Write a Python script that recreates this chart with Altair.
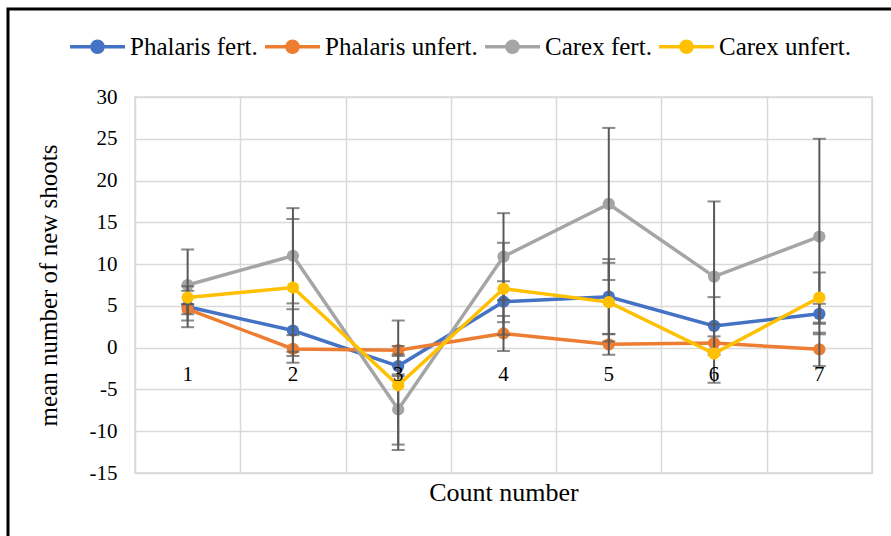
import altair as alt
import pandas as pd

# Count numbers (x categories)
counts = ["1", "2", "3", "4", "5", "6", "7"]

# Mean number of new shoots per treatment, with error (+/-)
phalaris_fert = [4.9, 2.05, -2.2, 5.5, 6.1, 2.6, 4.05]
phalaris_fert_err = [2.45, 2.55, 1.2, 2.45, 4.5, 3.45, 1.2]
phalaris_unfert = [4.6, -0.15, -0.3, 1.7, 0.4, 0.55, -0.2]
phalaris_unfert_err = [0.6, 1.65, 0.5, 2.1, 1.25, 0.8, 2.0]
carex_fert = [7.5, 11.0, -7.4, 10.9, 17.2, 8.5, 13.3]
carex_fert_err = [4.25, 5.7, 4.2, 5.2, 9.1, 9.0, 11.7]
carex_unfert = [6.0, 7.2, -4.5, 7.05, 5.45, -0.7, 6.0]
carex_unfert_err = [0.8, 8.2, 7.75, 5.5, 4.7, 3.5, 3.0]

series_names = ["Phalaris fert.", "Phalaris unfert.", "Carex fert.", "Carex unfert."]
series_colors = ["#4472C4", "#ED7D31", "#A5A5A5", "#FFC000"]
y_ticks = [-15, -10, -5, 0, 5, 10, 15, 20, 25, 30]

means = [phalaris_fert, phalaris_unfert, carex_fert, carex_unfert]
errs = [phalaris_fert_err, phalaris_unfert_err, carex_fert_err, carex_unfert_err]

rows = []
for name, m, e in zip(series_names, means, errs):
    for c, v, d in zip(counts, m, e):
        rows.append({"count": c, "series": name, "value": v, "lo": v - d, "hi": v + d})
df = pd.DataFrame(rows)

FONT = "Liberation Serif"
W, H = 737, 376
ZERO_OFFSET = -(H - H * 30 / 45)  # lifts the category labels up to the y = 0 line

x_scale = alt.Scale(paddingInner=0, paddingOuter=0)

# Vertical gridlines at the band edges (drawn under the marks)
x_grid = alt.X(
    "count:N",
    sort=counts,
    scale=x_scale,
    axis=alt.Axis(
        orient="bottom",
        title=None,
        labels=False,
        tickBand="extent",
        grid=True,
        gridColor="#d9d9d9",
        gridWidth=1.5,
        ticks=False,
        domain=False,
    ),
)
# Category labels sitting on the zero line (drawn over the marks) and the axis title
x_labels = alt.X(
    "count:N",
    sort=counts,
    scale=x_scale,
    axis=alt.Axis(
        orient="bottom",
        title="Count number",
        labelAngle=0,
        grid=False,
        ticks=False,
        tickSize=0,
        domain=False,
        offset=ZERO_OFFSET,
        labelPadding=27,
        labelBaseline="middle",
        titleY=145,
        titleBaseline="middle",
        zindex=1,
    ),
)
x_plain = alt.X("count:N", sort=counts, scale=x_scale, axis=None)

y_enc = alt.Y(
    "value:Q",
    scale=alt.Scale(domain=[-15, 30], nice=False),
    axis=alt.Axis(
        title="mean number of new shoots",
        values=y_ticks,
        labelExpr="toString(datum.value)",
        grid=True,
        gridColor="#d9d9d9",
        gridWidth=1.5,
        ticks=False,
        domain=False,
        labelPadding=18,
        titleX=-87,
        titleY=H / 2,
        titleAngle=-90,
        titleAlign="center",
        titleBaseline="middle",
    ),
)

# Line-with-dot legend symbol (dot built from stroked rings)
legend_symbol = (
    "M-1,0L1,0"
    "M-0.2,0A0.2,0.2,0,1,1,0.2,0A0.2,0.2,0,1,1,-0.2,0"
    "M-0.11,0A0.11,0.11,0,1,1,0.11,0A0.11,0.11,0,1,1,-0.11,0"
    "M-0.03,0A0.03,0.03,0,1,1,0.03,0A0.03,0.03,0,1,1,-0.03,0"
)
color_scale = alt.Scale(domain=series_names, range=series_colors)
legend = alt.Legend(
    title=None,
    orient="none",
    direction="horizontal",
    legendX=-67,
    legendY=-80,
    symbolType=legend_symbol,
    symbolSize=3025,
    symbolStrokeWidth=3.5,
    labelFont=FONT,
    labelFontSize=25,
    labelColor="black",
    labelOffset=3,
    columnPadding=0,
    labelLimit=300,
)

base = alt.Chart(df)


def line_layer(name, x_enc):
    return base.transform_filter(alt.datum.series == name).mark_line(strokeWidth=3.5).encode(
        x=x_enc, y=y_enc, color=alt.Color("series:N", scale=color_scale, legend=legend)
    )


def dot_layer(name, x_enc):
    return base.transform_filter(alt.datum.series == name).mark_circle(size=150, opacity=1).encode(
        x=x_enc, y=y_enc, color=alt.Color("series:N", scale=color_scale, legend=None)
    )


err_color = "#595959"
err_rule = base.mark_rule(color=err_color, strokeWidth=2).encode(
    x=x_plain, y=alt.Y("lo:Q"), y2="hi:Q"
)
cap_lo = base.mark_tick(color=err_color, thickness=2, size=13).encode(x=x_plain, y=alt.Y("lo:Q"))
cap_hi = base.mark_tick(color=err_color, thickness=2, size=13).encode(x=x_plain, y=alt.Y("hi:Q"))

frame = alt.Chart(pd.DataFrame({"k": [0]})).mark_rect(
    filled=False, stroke="black", strokeWidth=3
).encode(
    x=alt.value(-127), x2=alt.value(780), y=alt.value(-88), y2=alt.value(470)
)

layers = [frame]
for i, n in enumerate(series_names[:3]):
    layers += [line_layer(n, x_grid if i == 0 else x_plain), dot_layer(n, x_plain)]
layers += [err_rule, cap_lo, cap_hi]
layers += [line_layer(series_names[3], x_plain), dot_layer(series_names[3], x_labels)]

chart = (
    alt.layer(*layers)
    .resolve_axis(x="independent")
    .properties(
        width=W,
        height=H,
        autosize=alt.AutoSizeParams(type="none"),
        padding={"left": 135, "top": 97, "right": 19, "bottom": 63},
        background="white",
    )
    .configure_view(stroke="#d9d9d9", strokeWidth=1.5)
    .configure_axis(
        labelFont=FONT,
        titleFont=FONT,
        labelFontSize=21,
        titleFontSize=26,
        labelColor="black",
        titleColor="black",
        titleFontWeight="normal",
    )
    .configure_axisY(titleFontSize=25)
)

chart.save("out.html", embed_options={"renderer": "svg", "actions": False})
